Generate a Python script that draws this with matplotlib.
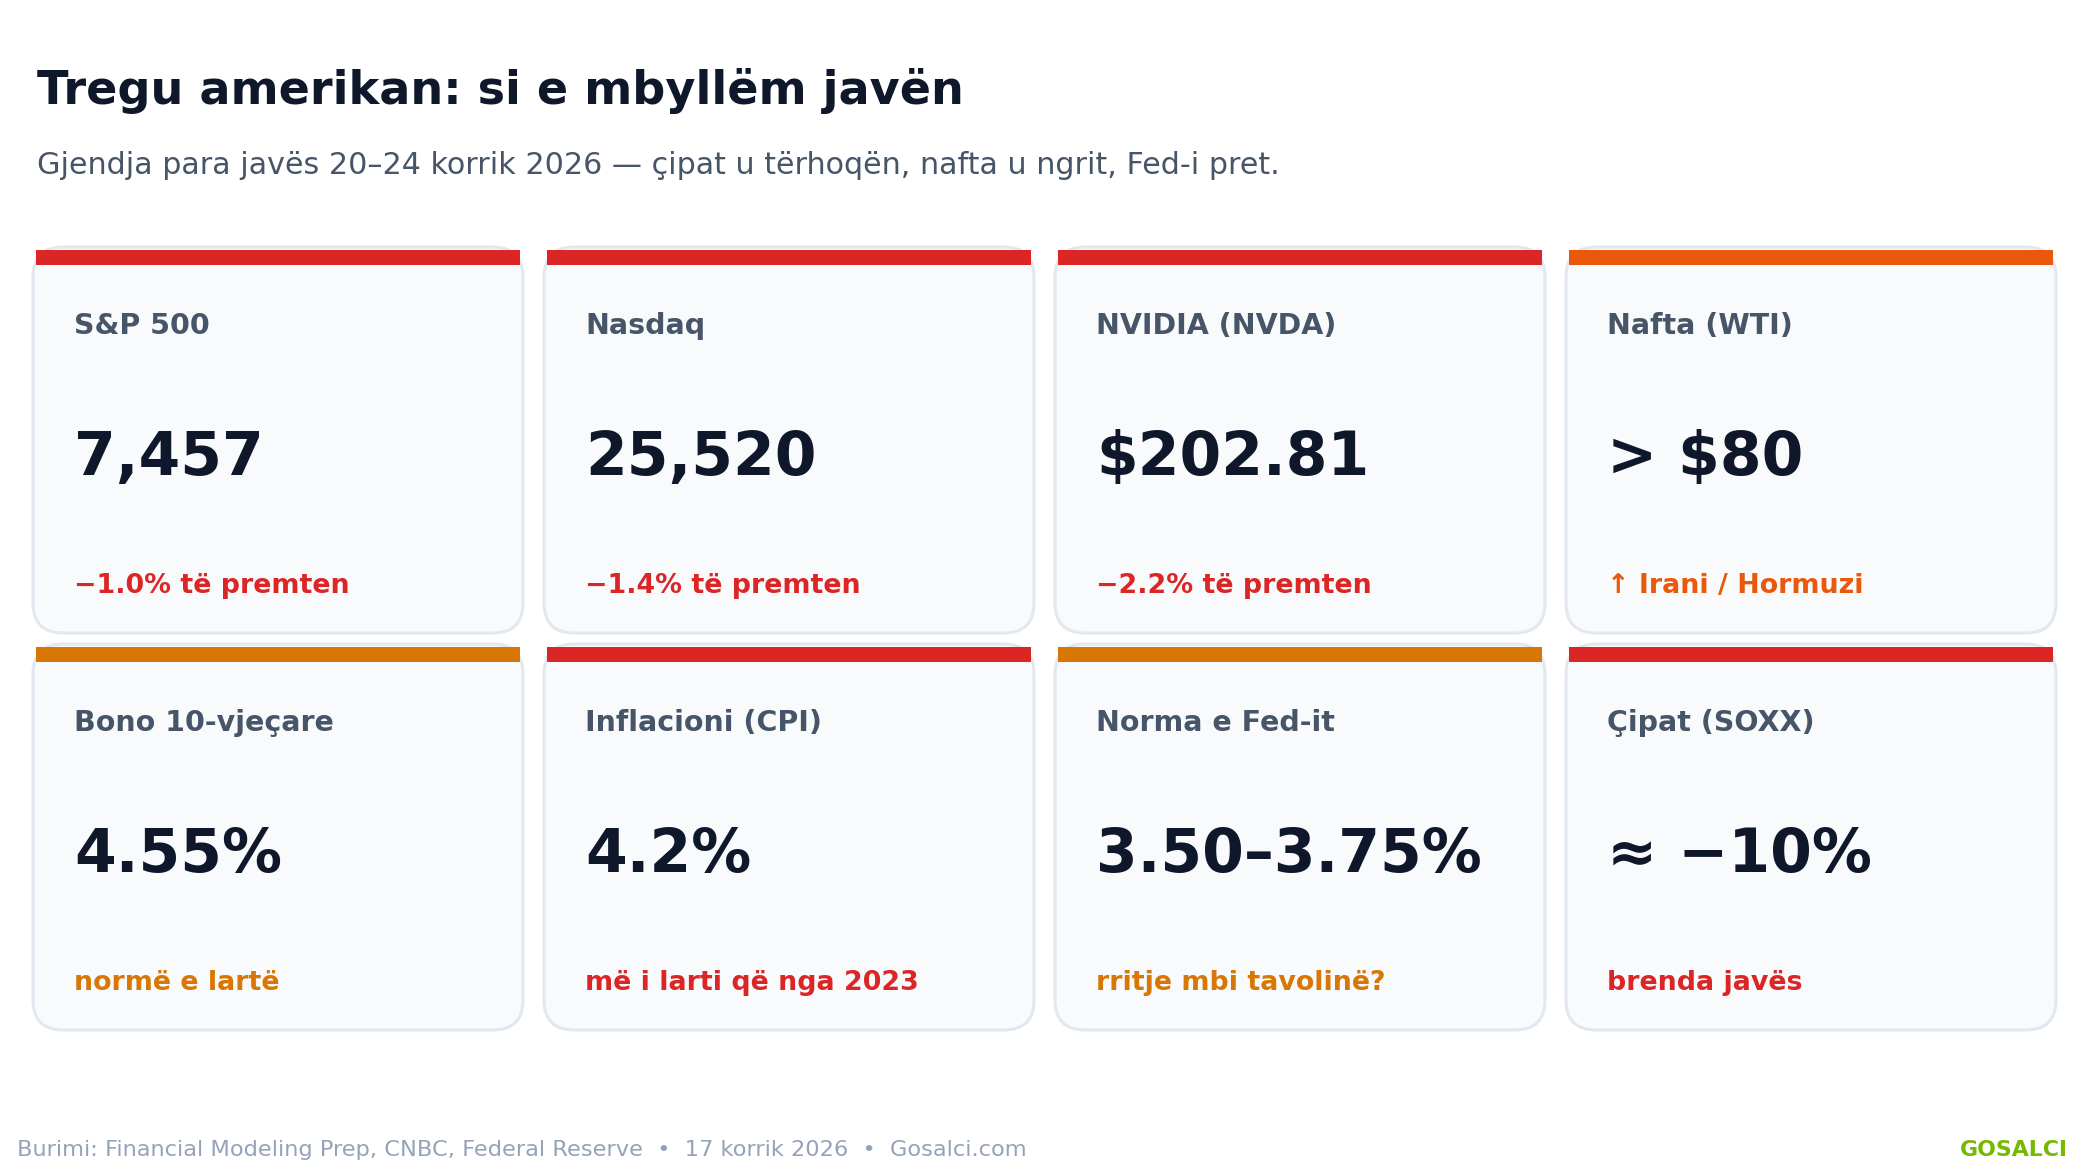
import matplotlib.pyplot as plt
from matplotlib.patches import FancyBboxPatch, Rectangle

# card contents
labels = ["S&P 500", "Nasdaq", "NVIDIA (NVDA)", "Nafta (WTI)",
          "Bono 10-vjeçare", "Inflacioni (CPI)", "Norma e Fed-it", "Çipat (SOXX)"]
values = ["7,457", "25,520", "$202.81", "> $80",
          "4.55%", "4.2%", "3.50–3.75%", "≈ −10%"]
notes = ["−1.0% të premten", "−1.4% të premten", "−2.2% të premten", "↑ Irani / Hormuzi",
         "normë e lartë", "më i larti që nga 2023", "rritje mbi tavolinë?", "brenda javës"]
tones = ["red", "red", "red", "orange",
         "amber", "red", "amber", "red"]

title = "Tregu amerikan: si e mbyllëm javën"
subtitle = "Gjendja para javës 20–24 korrik 2026 — çipat u tërhoqën, nafta u ngrit, Fed-i pret."
source = "Burimi: Financial Modeling Prep, CNBC, Federal Reserve  •  17 korrik 2026  •  Gosalci.com"
brand = "GOSALCI"

palette = {"red": "#dc2626", "orange": "#ea580c", "amber": "#d97706"}

W, H = 2088, 1170
fig = plt.figure(figsize=(W / 100, H / 100), dpi=100)
ax = fig.add_axes([0, 0, 1, 1])
ax.set_xlim(0, W)
ax.set_ylim(H, 0)
ax.axis("off")

ax.text(37, 104, title, fontsize=33.2, fontweight="bold", color="#0f172a")
ax.text(37, 174, subtitle, fontsize=21.7, color="#475569")

card_w, card_h = 490, 386
x0, y0 = 33, 247
dx, dy = 511, 397

for i, (lab, val, note, tone) in enumerate(zip(labels, values, notes, tones)):
    col, row = i % 4, i // 4
    x = x0 + col * dx
    y = y0 + row * dy
    c = palette[tone]
    ax.add_patch(FancyBboxPatch((x, y), card_w, card_h,
                                boxstyle="round,pad=0,rounding_size=30",
                                fc="#f8fafc", ec="#e2e8f0", lw=2.2))
    ax.add_patch(Rectangle((x + 3, y + 3), card_w - 6, 15, fc=c, ec="none"))
    ax.text(x + 41, y + 87, lab, fontsize=20.5, fontweight="bold", color="#475569")
    ax.text(x + 41, y + 228, val, fontsize=43.2, fontweight="bold", color="#0f172a")
    ax.text(x + 41, y + 346, note, fontsize=19.4, fontweight="bold", color=c)

ax.text(17, 1156, source, fontsize=16.2, color="#94a3b8")
ax.text(2068, 1156, brand, fontsize=15.8, fontweight="bold", color="#76b900", ha="right")

fig.savefig("out.png", dpi=100, facecolor="white")
